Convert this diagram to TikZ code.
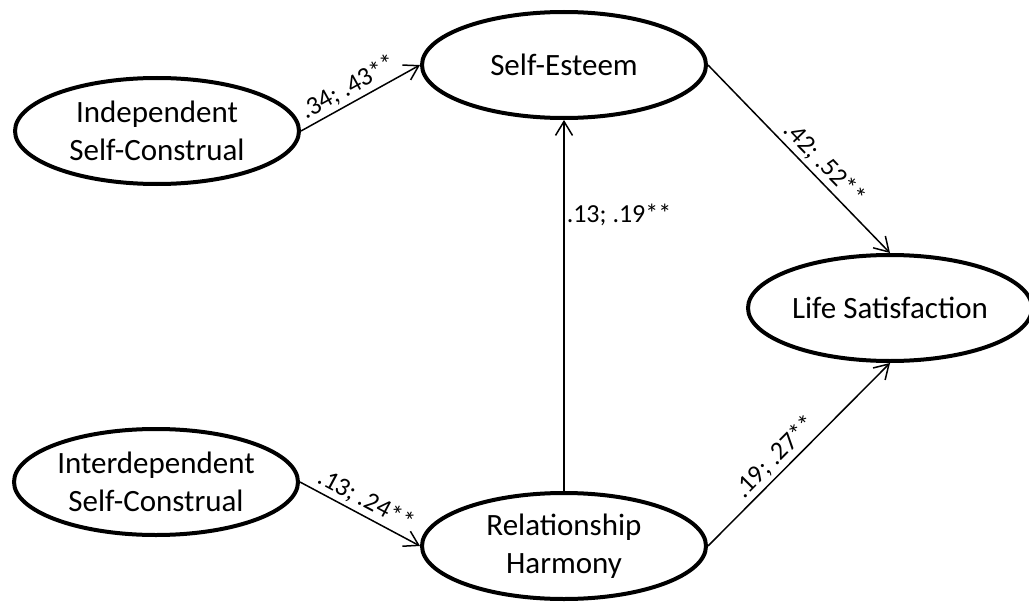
\documentclass[tikz,border=0pt]{standalone}
\usepackage{fontspec}
\setmainfont{Carlito}
\usetikzlibrary{shapes.geometric,arrows.meta}
\begin{document}
\begin{tikzpicture}[x=1pt,y=-1pt,
  construct/.style={draw, ellipse, line width=4pt, minimum width=284pt,
    minimum height=106pt, inner sep=0pt, align=center,
    font=\fontsize{31}{38}\selectfont},
  link/.style={line width=1.5pt, -{Straight Barb[length=14pt,width=17pt]}},
  coef/.style={font=\fontsize{26}{31}\selectfont, inner sep=3.5pt}
]
\useasboundingbox (0,0) rectangle (1029,602);

% latent constructs
\node[construct] (ind)   at (157,131) {Independent\\Self-Construal};
\node[construct] (inter) at (156,482) {Interdependent\\Self-Construal};
\node[construct] (se)    at (564,65)  {Self-Esteem};
\node[construct] (rh)    at (564,546) {Relationship\\Harmony};
\node[construct] (ls)    at (890,308) {Life Satisfaction};

% structural paths with coefficients
\draw[link] (ind.east) -- node[coef, sloped, above, pos=0.46] {.34; .43**} (se.west);
\draw[link] (inter.east) -- node[coef, sloped, above, pos=0.49] {.13; .24**} (rh.west);
\draw[link] (rh.north) -- node[coef, anchor=west, pos=0.745, inner xsep=2pt] {.13; .19**} (se.south);
\draw[link] (se.east) -- node[coef, sloped, above, pos=0.58] {.42; .52**} (ls.north);
\draw[link] (rh.east) -- node[coef, sloped, above, pos=0.43] {.19; .27**} (ls.south);
\end{tikzpicture}
\end{document}
